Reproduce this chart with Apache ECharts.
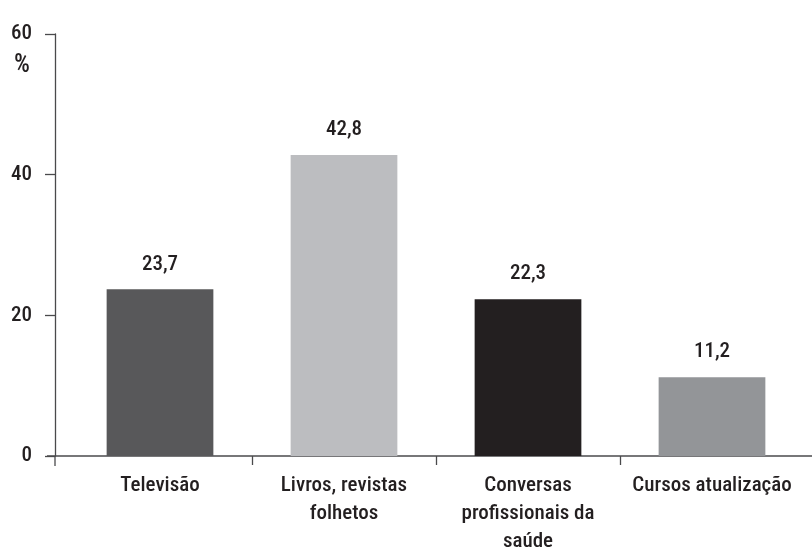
<!DOCTYPE html>
<html>
<head>
<meta charset="utf-8">
<script src="https://cdn.jsdelivr.net/npm/echarts@6/dist/echarts.min.js"></script>
<style>
html,body{margin:0;padding:0;background:#fff;}
#chart{width:812px;height:554px;}
</style>
</head>
<body>
<div id="chart"></div>
<script>
const categories = ['Televisão', 'Livros, revistas\nfolhetos', 'Conversas\nprofissionais da\nsaúde', 'Cursos atualização'];
const values = [23.7, 42.8, 22.3, 11.2];
const yTicks = [0, 20, 40, 60];

const barColors = ['#58585a', '#bcbdc0', '#231f20', '#939598'];
const FONT = '"Roboto Condensed", "Open Sans Condensed", sans-serif';
const FS = 21;
const FW = 500;
const TXT = '#231f20';
const AXIS = '#4a4a4c';

const chart = echarts.init(document.getElementById('chart'), null, {renderer: 'canvas'});

const option = {
  animation: false,
  backgroundColor: '#ffffff',
  grid: {left: 68, right: 8, top: 34, bottom: 98, containLabel: false, outerBoundsMode: 'none'},
  xAxis: {
    type: 'category',
    data: categories,
    axisLine: {show: false},
    axisTick: {show: false},
    axisLabel: {
      margin: 16,
      color: TXT,
      fontFamily: FONT,
      fontSize: FS,
      fontWeight: FW,
      lineHeight: 28,
      interval: 0
    }
  },
  yAxis: {
    type: 'value',
    min: yTicks[0],
    max: yTicks[yTicks.length - 1],
    interval: yTicks[1] - yTicks[0],
    offset: 13,
    splitLine: {show: false},
    axisLine: {show: true, lineStyle: {color: AXIS, width: 1.3}},
    axisTick: {show: true, length: 10, lineStyle: {color: AXIS, width: 1.3}},
    axisLabel: {
      margin: 23,
      color: TXT,
      fontFamily: FONT,
      fontSize: FS,
      fontWeight: FW
    }
  },
  series: [{
    type: 'bar',
    barWidth: '58%',
    data: values.map((v, i) => ({value: v, itemStyle: {color: barColors[i]}})),
    label: {
      show: true,
      position: 'top',
      distance: 11,
      color: TXT,
      fontFamily: FONT,
      fontSize: FS,
      fontWeight: FW,
      lineHeight: 28,
      formatter: p => p.value.toFixed(1).replace('.', ',')
    }
  }]
};
chart.setOption(option);

// axis decorations derived from the chart's own scales
const c0 = chart.convertToPixel({xAxisIndex: 0}, 0);
const c1 = chart.convertToPixel({xAxisIndex: 0}, 1);
const band = c1 - c0;
const y0 = chart.convertToPixel({yAxisIndex: 0}, 0);
const yAxisX = 68 - 13;
const gfx = [];
gfx.push({type: 'line', shape: {x1: yAxisX - 8, y1: y0, x2: 812, y2: y0}, style: {stroke: AXIS, lineWidth: 1.3}, silent: true});
gfx.push({type: 'line', shape: {x1: yAxisX, y1: y0, x2: yAxisX, y2: y0 + 10}, style: {stroke: AXIS, lineWidth: 1.3}, silent: true});
for (let i = 1; i < categories.length; i++) {
  const x = Math.round(chart.convertToPixel({xAxisIndex: 0}, i) - band / 2) + 0.5;
  gfx.push({type: 'line', shape: {x1: x, y1: y0, x2: x, y2: y0 + 9}, style: {stroke: AXIS, lineWidth: 1.3}, silent: true});
}
gfx.push({type: 'text', left: 14, top: 53, style: {text: '%', fill: TXT, font: FW + ' 25px ' + FONT}});
chart.setOption({graphic: gfx});
</script>
</body>
</html>
